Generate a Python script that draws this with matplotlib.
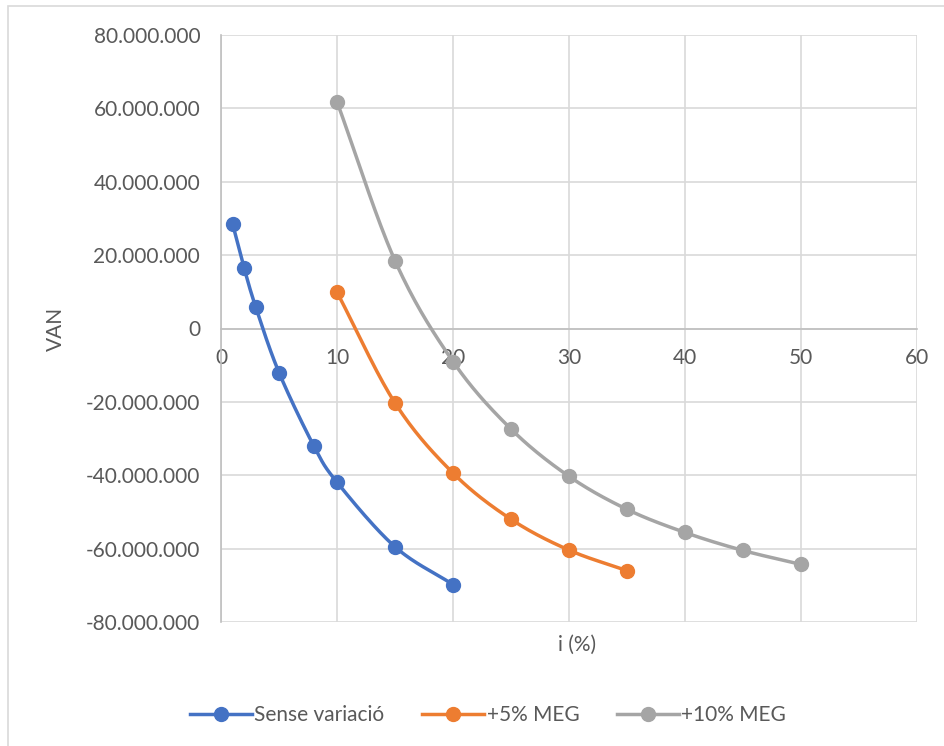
import numpy as np
import matplotlib.pyplot as plt
from matplotlib.patches import Rectangle
from matplotlib.ticker import FuncFormatter, MultipleLocator

# data
i_base = [1, 2, 3, 5, 8, 10, 15, 20]
van_base = [28.5e6, 16.4e6, 5.8e6, -12.0e6, -32.0e6, -41.9e6, -59.5e6, -69.8e6]

i_5 = [10, 15, 20, 25, 30, 35]
van_5 = [9.9e6, -20.3e6, -39.4e6, -52.0e6, -60.4e6, -66.0e6]

i_10 = [10, 15, 20, 25, 30, 35, 40, 45, 50]
van_10 = [61.8e6, 18.5e6, -9.0e6, -27.4e6, -40.3e6, -49.3e6, -55.6e6, -60.5e6, -64.3e6]

labels = ["Sense variació", "+5% MEG", "+10% MEG"]
colors = ["#4472C4", "#ED7D31", "#A5A5A5"]

plt.rcParams['font.family'] = ['Lato', 'DejaVu Sans']
txt_col = "#595959"


def smooth(x, y, n=30):
    # catmull-rom style smoothing like excel's "smoothed line"
    x = np.asarray(x, float)
    y = np.asarray(y, float) / 1e6
    px = np.concatenate([[2 * x[0] - x[1]], x, [2 * x[-1] - x[-2]]])
    py = np.concatenate([[2 * y[0] - y[1]], y, [2 * y[-1] - y[-2]]])
    xs, ys = [], []
    t = np.linspace(0, 1, n)
    for k in range(1, len(px) - 2):
        p0x, p1x, p2x, p3x = px[k - 1:k + 3]
        p0y, p1y, p2y, p3y = py[k - 1:k + 3]
        c1x, c1y = p1x + (p2x - p0x) / 6, p1y + (p2y - p0y) / 6
        c2x, c2y = p2x - (p3x - p1x) / 6, p2y - (p3y - p1y) / 6
        bx = (1 - t) ** 3 * p1x + 3 * (1 - t) ** 2 * t * c1x + 3 * (1 - t) * t ** 2 * c2x + t ** 3 * p2x
        by = (1 - t) ** 3 * p1y + 3 * (1 - t) ** 2 * t * c1y + 3 * (1 - t) * t ** 2 * c2y + t ** 3 * p2y
        xs.append(bx)
        ys.append(by)
    return np.concatenate(xs), np.concatenate(ys) * 1e6


fig = plt.figure(figsize=(9.45, 7.46), dpi=100)
ax = fig.add_axes([221 / 945, 1 - 622 / 746, (917 - 221) / 945, (622 - 35) / 746])

fig.add_artist(Rectangle((8 / 945, -0.1), 1.2, 1 - 6 / 746 + 0.1, transform=fig.transFigure,
                         fill=False, edgecolor="#d9d9d9", linewidth=1.2))

for xs, ys, lab, c in zip([i_base, i_5, i_10], [van_base, van_5, van_10], labels, colors):
    sx, sy = smooth(xs, ys)
    ax.plot(sx, sy, color=c, linewidth=2.5, solid_capstyle='round', zorder=3)
    ax.plot(xs, ys, 'o', color=c, markersize=10, zorder=4)
    ax.plot([], [], '-o', color=c, linewidth=2.5, markersize=10, label=lab)

ax.set_xlim(0, 60)
ax.set_ylim(-80e6, 80e6)
ax.xaxis.set_major_locator(MultipleLocator(10))
ax.yaxis.set_major_locator(MultipleLocator(20e6))
ax.yaxis.set_major_formatter(FuncFormatter(lambda v, p: "0" if v == 0 else f"{int(v):,}".replace(",", ".")))
ax.grid(True, color="#d9d9d9", linewidth=1.2)
ax.set_axisbelow(True)

for s in ["top", "right"]:
    ax.spines[s].set_visible(False)
ax.spines["bottom"].set_position(("data", 0))
ax.spines["bottom"].set_color("#bfbfbf")
ax.spines["left"].set_color("#bfbfbf")
ax.spines["bottom"].set_linewidth(1.2)
ax.spines["left"].set_linewidth(1.2)
ax.tick_params(length=0, labelsize=15, labelcolor=txt_col)
ax.tick_params(axis='x', pad=14)
ax.tick_params(axis='y', pad=15)

ax.set_ylabel("VAN", fontsize=15, color=txt_col, labelpad=14)
fig.text(577 / 945, 1 - 645 / 746, "i (%)", fontsize=15, color=txt_col, ha='center', va='center')

fig.legend(loc='center', bbox_to_anchor=(488 / 945, 1 - 715 / 746), ncol=3, frameon=False,
           fontsize=15, labelcolor=txt_col, handlelength=3.0, columnspacing=1.8, handletextpad=0.1)

plt.savefig("out.png", dpi=100)
